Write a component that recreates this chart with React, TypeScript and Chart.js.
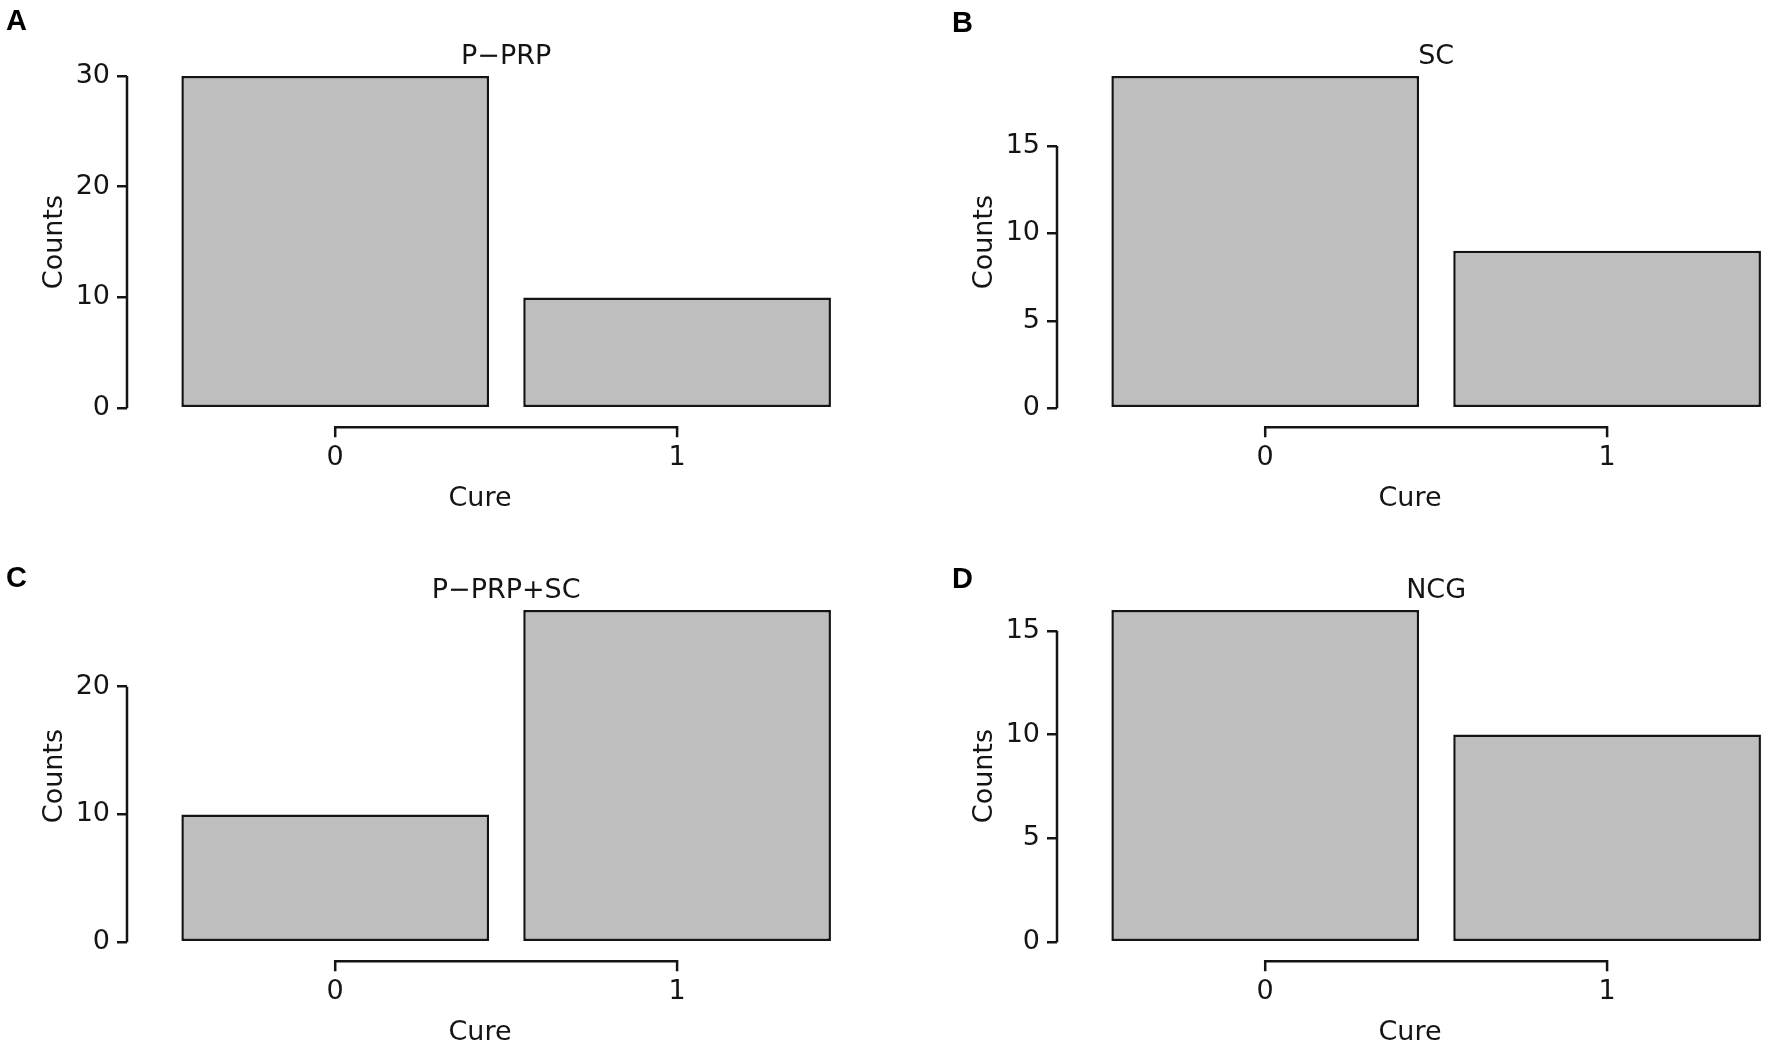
import { useEffect, useRef } from "react"
import { Chart, registerables } from "chart.js"

Chart.register(...registerables)

// Niveles de la variable "Cure" (eje x)
const cureLevels = [0, 1]

// Conteos por grupo
const pprpCounts = [30, 10]
const scCounts = [19, 9]
const pprpScCounts = [10, 26]
const ncgCounts = [16, 10]

// Títulos, letras y paso de las marcas del eje y
const panelTitles = ["P\u2212PRP", "SC", "P\u2212PRP+SC", "NCG"]
const panelLetters = ["A", "B", "C", "D"]
const yStepSizes = [10, 5, 10, 5]

const INK = "#141414"
const FONT = "'DejaVu Sans', 'Noto Sans', sans-serif"
const CANVAS_W = 842
const CANVAS_H = 518

// Ejes "separados" al estilo de la figura: línea del eje y hasta la última marca
// y corchete del eje x entre el primer y el último nivel
const offsetAxes = {
    id: "offsetAxes",
    afterDraw(chart: any, _args: any, opts: any) {
        const { ctx, chartArea, scales } = chart
        const x = scales.x
        const y = scales.y
        const ticks = y.ticks
        const yTop = y.getPixelForValue(ticks[ticks.length - 1].value)
        const yBottom = y.getPixelForValue(0)
        const x0 = x.getPixelForValue(cureLevels[0])
        const x1 = x.getPixelForValue(cureLevels[cureLevels.length - 1])
        const yb = chartArea.bottom + 19

        ctx.save()
        ctx.strokeStyle = INK
        ctx.lineWidth = 2.5
        ctx.beginPath()
        ctx.moveTo(chartArea.left, yTop)
        ctx.lineTo(chartArea.left, yBottom)
        ctx.stroke()

        ctx.beginPath()
        ctx.moveTo(x0, yb + 10)
        ctx.lineTo(x0, yb)
        ctx.lineTo(x1, yb)
        ctx.lineTo(x1, yb + 10)
        ctx.stroke()

        // título del panel, centrado sobre los niveles
        ctx.fillStyle = INK
        ctx.font = `27px ${FONT}`
        ctx.textAlign = "center"
        ctx.textBaseline = "middle"
        ctx.fillText(opts.title, (x0 + x1) / 2, chartArea.top - 19)
        ctx.restore()
    },
}

interface PanelProps {
    title: string
    counts: number[]
    step: number
    left: number
    top: number
}

function CountsPanel({ title, counts, step, left, top }: PanelProps) {
    const chartRef = useRef<HTMLCanvasElement>(null)
    const chartInstance = useRef<Chart | null>(null)

    useEffect(() => {
        if (!chartRef.current) return
        if (chartInstance.current) chartInstance.current.destroy()

        const ctx = chartRef.current.getContext("2d")
        if (!ctx) return

        const font = { family: FONT, size: 27 }

        chartInstance.current = new Chart(ctx, {
            type: "bar",
            data: {
                datasets: [
                    {
                        label: title,
                        data: cureLevels.map((c, i) => ({ x: c, y: counts[i] })),
                        backgroundColor: "#bebebe",
                        borderColor: INK,
                        borderWidth: 2.5,
                        borderSkipped: false,
                        barPercentage: 0.9,
                        categoryPercentage: 1,
                        clip: false,
                    } as any,
                ],
            },
            options: {
                responsive: false,
                animation: false,
                events: [],
                layout: { padding: { left: 27, right: 9, top: 76, bottom: 3 } },
                plugins: {
                    legend: { display: false },
                    tooltip: { enabled: false },
                    offsetAxes: { title },
                } as any,
                scales: {
                    x: {
                        type: "linear",
                        offset: false,
                        min: -0.609,
                        max: 1.456,
                        grid: { display: false, offset: false, drawTicks: true, tickLength: 34 },
                        border: { display: false },
                        ticks: {
                            stepSize: 1,
                            includeBounds: false,
                            padding: 0,
                            maxRotation: 0,
                            color: INK,
                            font,
                        },
                        title: {
                            display: true,
                            text: "Cure",
                            color: INK,
                            font,
                            padding: { top: 8, bottom: 0 },
                        },
                    },
                    y: {
                        min: 0,
                        max: Math.max(...counts),
                        afterFit: (scale: any) => {
                            scale.width = 100
                        },
                        grid: {
                            display: true,
                            drawOnChartArea: false,
                            drawTicks: true,
                            tickLength: 10,
                            color: INK,
                            lineWidth: 2.5,
                        },
                        border: { display: false },
                        ticks: {
                            stepSize: step,
                            includeBounds: false,
                            padding: 7,
                            color: INK,
                            font,
                        },
                        title: {
                            display: true,
                            text: "Counts",
                            color: INK,
                            font,
                            padding: { top: 12, bottom: 0 },
                        },
                    },
                },
            } as any,
            plugins: [offsetAxes],
        })

        return () => {
            if (chartInstance.current) {
                chartInstance.current.destroy()
                chartInstance.current = null
            }
        }
    }, [title, counts, step])

    return (
        <canvas
            ref={chartRef}
            width={CANVAS_W}
            height={CANVAS_H}
            style={{ position: "absolute", left, top, width: CANVAS_W, height: CANVAS_H }}
        />
    )
}

const letterStyle = {
    position: "absolute" as const,
    fontFamily: "'Liberation Sans', Arial, sans-serif",
    fontWeight: 700,
    fontSize: 29,
    lineHeight: "29px",
    color: "#000",
}

export default function App() {
    const groups = [pprpCounts, scCounts, pprpScCounts, ncgCounts]
    const lefts = [0, 930, 0, 930]
    const tops = [0, 0, 534, 534]
    const letterPos = [
        [6, 6],
        [952, 8],
        [6, 563],
        [952, 564],
    ]

    return (
        <div
            style={{
                position: "absolute",
                left: 0,
                top: 0,
                width: 1772,
                height: 1052,
                background: "#fff",
                overflow: "hidden",
            }}
        >
            {groups.map((counts, i) => (
                <CountsPanel
                    key={panelLetters[i]}
                    title={panelTitles[i]}
                    counts={counts}
                    step={yStepSizes[i]}
                    left={lefts[i]}
                    top={tops[i]}
                />
            ))}
            {panelLetters.map((l, i) => (
                <div key={l} style={{ ...letterStyle, left: letterPos[i][0], top: letterPos[i][1] }}>
                    {l}
                </div>
            ))}
        </div>
    )
}
